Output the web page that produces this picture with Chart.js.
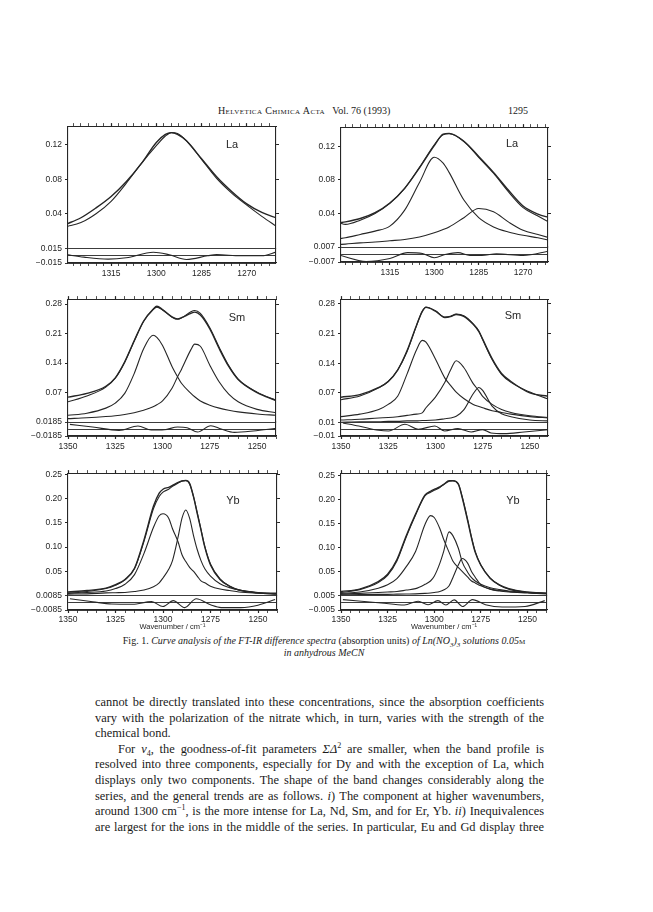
<!DOCTYPE html>
<html>
<head>
<meta charset="utf-8">
<script src="https://cdn.jsdelivr.net/npm/chart.js@4.4.1/dist/chart.umd.min.js"></script>
<style>
  body { margin: 0; background: #fff; }
  #page { position: relative; width: 653px; height: 912px; overflow: hidden; background: #fff; color: #1a1a1a; font-family: 'Liberation Serif', serif; }
  #page canvas { position: absolute; }
  sup, sub { line-height: 0; font-size: 8px; }
  .abs { position: absolute; white-space: nowrap; }
  .hdr { top: 105px; font-size: 10px; }
  .cap { left: 0; width: 648px; text-align: center; font-size: 10px; }
  .body { position: absolute; left: 95px; top: 695px; width: 449px; font-size: 12.4px; line-height: 15.6px; }
  .j { text-align: justify; text-align-last: justify; }
</style>
</head>
<body>
<div id="page">
  <div class="abs hdr" style="left:218px;"><span style="font-variant:small-caps;letter-spacing:0.4px">Helvetica Chimica Acta</span>&nbsp;&nbsp; Vol. 76 (1993)</div>
  <div class="abs hdr" style="left:508px;">1295</div>

  <canvas id="c1"></canvas>
  <canvas id="c2"></canvas>
  <canvas id="c3"></canvas>
  <canvas id="c4"></canvas>
  <canvas id="c5"></canvas>
  <canvas id="c6"></canvas>

  <div class="abs cap" style="top:635px;">Fig. 1. <i>Curve analysis of the FT-IR difference spectra</i> (absorption units) <i>of Ln(NO<sub style="font-size:7px">3</sub>)<sub style="font-size:7px">3</sub> solutions 0.05</i><span style="font-variant:small-caps">m</span></div>
  <div class="abs cap" style="top:647px;"><i>in anhydrous MeCN</i></div>

  <div class="body">
    <div class="j">cannot be directly translated into these concentrations, since the absorption coefficients</div>
    <div class="j">vary with the polarization of the nitrate which, in turn, varies with the strength of the</div>
    <div>chemical bond.</div>
    <div class="j" style="padding-left:23px">For <i>v</i><sub>4</sub>, the goodness-of-fit parameters <i>ΣΔ</i><sup>2</sup> are smaller, when the band profile is</div>
    <div class="j">resolved into three components, especially for Dy and with the exception of La, which</div>
    <div class="j">displays only two components. The shape of the band changes considerably along the</div>
    <div class="j">series, and the general trends are as follows. <i>i</i>) The component at higher wavenumbers,</div>
    <div class="j">around 1300 cm<sup>−1</sup>, is the more intense for La, Nd, Sm, and for Er, Yb. <i>ii</i>) Inequivalences</div>
    <div class="j">are largest for the ions in the middle of the series. In particular, Eu and Gd display three</div>
  </div>
</div>

<script>
// --- La, one component (top left)
const laAWn = [1330, 1325, 1320, 1315, 1310, 1305, 1300, 1297, 1295, 1293, 1290, 1285, 1280, 1275, 1270, 1265, 1260]
const laAExp = [0.0278, 0.0354, 0.0468, 0.0600, 0.0771, 0.0980, 0.1226, 0.1320, 0.1340, 0.1320, 0.1245, 0.1037, 0.0828, 0.0658, 0.0514, 0.0415, 0.0350]
const laAFit = [0.0250, 0.0298, 0.0400, 0.0544, 0.0752, 0.0980, 0.1188, 0.1300, 0.1340, 0.1330, 0.1245, 0.1030, 0.0809, 0.0639, 0.0500, 0.0370, 0.0250]
const laAResWn = [1330, 1324, 1316, 1310, 1301, 1296, 1290, 1283, 1280, 1272, 1265, 1260]
const laARes = [0.0023, -0.0030, -0.0070, -0.0043, 0.0070, 0.0023, -0.0077, -0.0003, 0.0023, -0.0003, -0.0003, 0.0077]

// --- La, two components (top right)
const laBWn = [1332, 1330, 1325, 1320, 1315, 1310, 1305, 1300, 1297, 1295, 1290, 1285, 1280, 1275, 1270, 1265, 1261]
const laBExp = [0.029, 0.030, 0.034, 0.041, 0.0526, 0.070, 0.0945, 0.121, 0.1345, 0.1355, 0.126, 0.108, 0.089, 0.068, 0.049, 0.0393, 0.035]
const laBFit = [0.029, 0.027, 0.032, 0.040, 0.052, 0.070, 0.095, 0.122, 0.134, 0.135, 0.126, 0.107, 0.088, 0.066, 0.047, 0.037, 0.029]
const laBC1 = [0.010, 0.011, 0.015, 0.019, 0.025, 0.044, 0.077, 0.107, 0.100, 0.089, 0.056, 0.035, 0.024, 0.018, 0.014, 0.011, 0.008]
const laBC2 = [0.003, 0.0035, 0.005, 0.006, 0.0075, 0.009, 0.012, 0.017, 0.021, 0.024, 0.035, 0.046, 0.042, 0.030, 0.020, 0.015, 0.011]
const laBResWn = [1332, 1323, 1315, 1309, 1304, 1300, 1296, 1292, 1288, 1283, 1279, 1270, 1261]
const laBRes = [-0.0006, -0.0065, -0.0037, 0.0018, 0.0009, -0.0030, 0.0003, 0.0018, -0.0009, -0.0006, 0.0006, -0.0009, 0.0034]

// --- Sm, two components (middle left)
const smAWn = [1350, 1340, 1330, 1325, 1320, 1315, 1310, 1305, 1303, 1300, 1295, 1292, 1290, 1285, 1283, 1280, 1275, 1270, 1265, 1260, 1250, 1240]
const smAExp = [0.059, 0.068, 0.085, 0.105, 0.143, 0.193, 0.240, 0.268, 0.275, 0.267, 0.250, 0.245, 0.248, 0.258, 0.261, 0.254, 0.221, 0.174, 0.132, 0.101, 0.070, 0.051]
const smAFit = [0.048, 0.062, 0.083, 0.104, 0.142, 0.192, 0.239, 0.267, 0.273, 0.266, 0.249, 0.244, 0.247, 0.262, 0.265, 0.258, 0.224, 0.177, 0.134, 0.102, 0.071, 0.052]
const smAC1 = [0.016, 0.021, 0.033, 0.045, 0.068, 0.115, 0.174, 0.206, 0.201, 0.182, 0.132, 0.107, 0.092, 0.068, 0.060, 0.050, 0.040, 0.033, 0.028, 0.024, 0.019, 0.016]
const smAC2 = [0.008, 0.010, 0.013, 0.015, 0.018, 0.022, 0.028, 0.036, 0.041, 0.050, 0.080, 0.108, 0.125, 0.172, 0.185, 0.180, 0.135, 0.095, 0.066, 0.048, 0.030, 0.022]
const smAResWn = [1349, 1337, 1323, 1313, 1306, 1299, 1292, 1287, 1281.5, 1274.5, 1269, 1262, 1252, 1240]
const smARes = [0.0123, 0.0053, -0.0035, 0.0080, -0.0026, -0.0018, 0.0053, 0.0035, -0.0080, 0.0088, 0.0000, -0.0088, -0.0053, 0.0018]

// --- Sm, three components (middle right)
const smBWn = [1350, 1340, 1330, 1325, 1320, 1315, 1310, 1307, 1305, 1300, 1295, 1292, 1289, 1285, 1280, 1277, 1275, 1270, 1265, 1260, 1250, 1240]
const smBExp = [0.060, 0.066, 0.083, 0.097, 0.124, 0.170, 0.230, 0.262, 0.272, 0.263, 0.248, 0.250, 0.255, 0.251, 0.232, 0.215, 0.197, 0.151, 0.116, 0.097, 0.070, 0.062]
const smBFit = [0.054, 0.063, 0.082, 0.097, 0.124, 0.168, 0.229, 0.263, 0.273, 0.264, 0.249, 0.251, 0.256, 0.252, 0.233, 0.216, 0.196, 0.149, 0.114, 0.095, 0.072, 0.055]
const smBC1 = [0.014, 0.020, 0.031, 0.043, 0.062, 0.115, 0.172, 0.194, 0.190, 0.150, 0.105, 0.088, 0.072, 0.057, 0.043, 0.038, 0.035, 0.028, 0.024, 0.020, 0.014, 0.011]
const smBC2 = [0.006, 0.008, 0.011, 0.012, 0.014, 0.017, 0.020, 0.023, 0.035, 0.060, 0.095, 0.124, 0.146, 0.130, 0.092, 0.075, 0.062, 0.043, 0.031, 0.024, 0.016, 0.012]
const smBC3 = [0.001, 0.002, 0.002, 0.003, 0.003, 0.004, 0.004, 0.005, 0.005, 0.006, 0.009, 0.011, 0.015, 0.030, 0.068, 0.083, 0.076, 0.039, 0.021, 0.014, 0.006, 0.004]
const smBResWn = [1349, 1340.6, 1330, 1324.8, 1316.1, 1309.1, 1300.3, 1295.1, 1288.1, 1281.1, 1275, 1270.6, 1263.6, 1253.1, 1240.4]
const smBRes = [0.0095, 0.0050, -0.0015, -0.0025, 0.0075, 0.0000, 0.0050, -0.0025, 0.0010, -0.0040, -0.0005, -0.0055, -0.0065, -0.0040, -0.0005]

// --- Yb, two components (bottom left)
const ybAWn = [1350, 1340, 1330, 1325, 1320, 1315, 1310, 1305, 1302, 1300, 1297, 1295, 1292, 1290, 1288, 1286, 1284, 1282, 1280, 1278, 1275, 1270, 1265, 1260, 1250, 1240]
const ybAExp = [0.007, 0.010, 0.015, 0.022, 0.033, 0.056, 0.115, 0.185, 0.212, 0.220, 0.224, 0.228, 0.234, 0.237, 0.238, 0.232, 0.205, 0.170, 0.135, 0.100, 0.063, 0.033, 0.019, 0.011, 0.005, 0.003]
const ybAFit = [0.004, 0.008, 0.014, 0.021, 0.032, 0.055, 0.112, 0.180, 0.205, 0.214, 0.220, 0.226, 0.233, 0.237, 0.238, 0.231, 0.206, 0.172, 0.137, 0.102, 0.065, 0.034, 0.019, 0.011, 0.005, 0.003]
const ybAC1 = [0.0045, 0.006, 0.009, 0.014, 0.023, 0.043, 0.087, 0.141, 0.165, 0.169, 0.160, 0.138, 0.110, 0.084, 0.070, 0.058, 0.050, 0.040, 0.030, 0.026, 0.019, 0.013, 0.010, 0.007, 0.0045, 0.003]
const ybAC2 = [0.0025, 0.003, 0.005, 0.0055, 0.006, 0.008, 0.011, 0.018, 0.026, 0.036, 0.054, 0.072, 0.122, 0.160, 0.177, 0.160, 0.125, 0.095, 0.072, 0.055, 0.040, 0.024, 0.016, 0.011, 0.006, 0.0045]
const ybAResWn = [1349, 1337, 1327, 1316, 1306, 1300, 1294.6, 1288.6, 1282.5, 1274.7, 1269.4, 1259, 1250, 1241]
const ybARes = [0.0045, 0.0010, -0.0016, -0.0018, 0.0012, -0.0045, 0.0024, -0.0057, 0.0045, -0.0028, -0.0057, -0.0057, -0.0030, 0.0036]

// --- Yb, three components (bottom right)
const ybBWn = [1350, 1340, 1330, 1325, 1320, 1315, 1310, 1305, 1302, 1300, 1297, 1295, 1292, 1290, 1287, 1285, 1282, 1280, 1278, 1275, 1270, 1265, 1260, 1250, 1240]
const ybBExp = [0.008, 0.013, 0.029, 0.044, 0.075, 0.125, 0.170, 0.210, 0.218, 0.222, 0.227, 0.232, 0.240, 0.240, 0.232, 0.205, 0.155, 0.120, 0.090, 0.063, 0.036, 0.022, 0.014, 0.007, 0.004]
const ybBFit = [0.006, 0.012, 0.027, 0.042, 0.072, 0.122, 0.168, 0.208, 0.216, 0.220, 0.226, 0.232, 0.239, 0.240, 0.233, 0.207, 0.158, 0.122, 0.092, 0.064, 0.036, 0.021, 0.013, 0.006, 0.004]
const ybBC1 = [0.004, 0.007, 0.015, 0.022, 0.035, 0.060, 0.092, 0.148, 0.167, 0.163, 0.140, 0.118, 0.090, 0.072, 0.058, 0.050, 0.038, 0.030, 0.026, 0.020, 0.013, 0.010, 0.008, 0.006, 0.004]
const ybBC2 = [0.0025, 0.004, 0.006, 0.007, 0.008, 0.011, 0.014, 0.023, 0.030, 0.040, 0.067, 0.091, 0.133, 0.125, 0.098, 0.070, 0.048, 0.037, 0.030, 0.023, 0.016, 0.012, 0.009, 0.006, 0.0045]
const ybBC3 = [0.001, 0.0015, 0.002, 0.002, 0.0025, 0.0028, 0.003, 0.004, 0.005, 0.006, 0.008, 0.011, 0.020, 0.037, 0.064, 0.077, 0.067, 0.050, 0.038, 0.022, 0.013, 0.009, 0.007, 0.005, 0.003]
const ybBResWn = [1349, 1328.5, 1316, 1308.6, 1303.3, 1298, 1293.7, 1289.3, 1284.8, 1279.5, 1272.5, 1263.6, 1251.3, 1240.7]
const ybBRes = [0.0021, -0.0002, -0.0016, 0.0010, -0.0014, 0.0014, -0.0016, 0.0019, -0.0026, 0.0021, -0.0014, -0.0030, -0.0026, 0.0014]

// tick labels
const laTicksX = [1315, 1300, 1285, 1270]
const wideTicksX = [1350, 1325, 1300, 1275, 1250]
const laTicksY = [0.04, 0.08, 0.12]
const smTicksY = [0.07, 0.14, 0.21, 0.28]
const ybTicksY = [0.05, 0.10, 0.15, 0.20, 0.25]

const ink = '#262626'
const sans = 'Liberation Sans'
const LW = 44, RW = 8, TH = 5

function curve(xs, ys, axis, width) {
    return {
        data: xs.map((x, i) => ({ x: x, y: ys[i] })),
        yAxisID: axis,
        borderColor: ink,
        borderWidth: width,
        pointRadius: 0,
        cubicInterpolationMode: 'monotone',
        fill: false,
    }
}

const tag = {
    id: 'tag',
    afterDraw(chart, args, o) {
        const { ctx, chartArea } = chart
        ctx.save()
        ctx.font = '11px "' + sans + '"'
        ctx.fillStyle = ink
        ctx.textAlign = 'center'
        ctx.textBaseline = 'middle'
        ctx.fillText(o.text, chartArea.right - o.dx, chartArea.top + o.dy)
        ctx.restore()
    },
}

function panel(id, frame, sep, p) {
    const BH = p.title ? 21 : 17
    const cv = document.getElementById(id)
    cv.width = frame.r - frame.l + LW + RW
    cv.height = frame.b - frame.t + TH + BH
    cv.style.left = frame.l - LW + 'px'
    cv.style.top = frame.t - TH + 'px'

    const datasets = p.curves.map((c, i) => curve(p.wn, c, 'y', i === 0 ? 1.4 : 1.1))
    datasets.push(curve(p.resWn, p.res, 'yr', 1.1))

    const font = { family: sans, size: 8.5 }
    const minor = s => {
        const out = []
        for (let k = Math.ceil(p.xMin / p.step); k * p.step <= p.xMax; k++) out.push({ value: k * p.step })
        s.ticks = out
    }
    const fixed = vals => s => { s.ticks = vals.map(v => ({ value: v })) }
    const isMajor = v => p.xLabels.includes(v)
    const xGrid = {
        drawOnChartArea: false, tickLength: 3, color: ink,
        tickWidth: c => (c.tick && isMajor(c.tick.value) ? 1.2 : 0.8),
    }
    const border = { display: true, color: ink, width: 1.1 }
    const mainW = sep - frame.t
    const resW = frame.b - sep

    new Chart(cv, {
        type: 'line',
        data: { datasets: datasets },
        plugins: [tag],
        options: {
            responsive: false,
            animation: false,
            devicePixelRatio: 1,
            layout: { padding: 0 },
            plugins: {
                legend: { display: false },
                tooltip: { enabled: false },
                tag: { text: p.tag, dx: p.tagDx, dy: p.tagDy },
            },
            scales: {
                x: {
                    type: 'linear', position: 'bottom', reverse: true, min: p.xMin, max: p.xMax,
                    afterBuildTicks: minor,
                    afterFit: s => { s.height = BH },
                    ticks: { autoSkip: false, maxRotation: 0, padding: p.title ? 2 : 3, color: ink, font: font,
                        callback: v => (isMajor(v) ? String(v) : '') },
                    grid: xGrid, border: border,
                    title: { display: !!p.title, text: p.title, color: ink, padding: 0, font: { family: sans, size: 7.5 } },
                },
                x2: {
                    type: 'linear', position: 'top', reverse: true, min: p.xMin, max: p.xMax,
                    afterBuildTicks: minor,
                    afterFit: s => { s.height = TH },
                    ticks: { display: false, autoSkip: false },
                    grid: xGrid, border: border,
                },
                yr: {
                    type: 'linear', position: 'left', stack: 'L', stackWeight: resW,
                    min: -p.res0, max: p.res0,
                    afterBuildTicks: fixed([-p.res0, 0, p.res0]),
                    afterFit: s => { s.width = LW },
                    ticks: { autoSkip: false, padding: 3, color: ink, font: font,
                        callback: v => (v === 0 ? '' : (v < 0 ? '\u2212' : '') + String(Math.abs(v))) },
                    grid: { drawOnChartArea: true, tickLength: 3, color: ink, lineWidth: 0.9,
                        tickColor: c => (c.tick && c.tick.value === 0 ? 'rgba(0,0,0,0)' : ink) },
                    border: border,
                },
                y: {
                    type: 'linear', position: 'left', stack: 'L', stackWeight: mainW,
                    min: 0, max: p.yMax,
                    afterBuildTicks: fixed(p.yTicks),
                    afterFit: s => { s.width = LW },
                    ticks: { autoSkip: false, padding: 3, color: ink, font: font, callback: v => v.toFixed(2) },
                    grid: { drawOnChartArea: false, tickLength: 3, color: ink },
                    border: border,
                },
                y2: {
                    type: 'linear', position: 'right', stack: 'R', stackWeight: mainW,
                    min: 0, max: p.yMax,
                    afterBuildTicks: fixed(p.yTicks),
                    afterFit: s => { s.width = RW },
                    ticks: { display: false, autoSkip: false },
                    grid: { drawOnChartArea: false, tickLength: 3, color: ink },
                    border: border,
                },
                yr2: {
                    type: 'linear', position: 'right', stack: 'R', stackWeight: resW,
                    min: -p.res0, max: p.res0,
                    afterFit: s => { s.width = RW },
                    ticks: { display: false },
                    grid: { display: false },
                    border: border,
                },
            },
        },
    })
}

panel('c1', { l: 68, t: 123, r: 276, b: 263 }, 248, {
    wn: laAWn, curves: [laAExp, laAFit], resWn: laAResWn, res: laARes,
    xMin: 1260.3, xMax: 1329.3, step: 2.5, xLabels: laTicksX,
    yMax: 0.1415, yTicks: laTicksY, res0: 0.015,
    tag: 'La', tagDx: 44, tagDy: 19,
})
panel('c2', { l: 341, t: 124, r: 548, b: 262 }, 246.7, {
    wn: laBWn, curves: [laBExp, laBFit, laBC1, laBC2], resWn: laBResWn, res: laBRes,
    xMin: 1261.6, xMax: 1331.5, step: 2.5, xLabels: laTicksX,
    yMax: 0.143, yTicks: laTicksY, res0: 0.007,
    tag: 'La', tagDx: 36, tagDy: 17,
})
panel('c3', { l: 68, t: 296, r: 276, b: 436 }, 421.7, {
    wn: smAWn, curves: [smAExp, smAFit, smAC1, smAC2], resWn: smAResWn, res: smARes,
    xMin: 1240, xMax: 1350, step: 5, xLabels: wideTicksX,
    yMax: 0.292, yTicks: smTicksY, res0: 0.0185,
    tag: 'Sm', tagDx: 39, tagDy: 19,
})
panel('c4', { l: 341, t: 296, r: 548, b: 436 }, 422.3, {
    wn: smBWn, curves: [smBExp, smBFit, smBC1, smBC2, smBC3], resWn: smBResWn, res: smBRes,
    xMin: 1240.4, xMax: 1350, step: 5, xLabels: wideTicksX,
    yMax: 0.2915, yTicks: smTicksY, res0: 0.01,
    tag: 'Sm', tagDx: 35, tagDy: 17,
})
panel('c5', { l: 68, t: 470, r: 277, b: 610 }, 595, {
    wn: ybAWn, curves: [ybAExp, ybAFit, ybAC1, ybAC2], resWn: ybAResWn, res: ybARes,
    xMin: 1240, xMax: 1350, step: 5, xLabels: wideTicksX,
    yMax: 0.2534, yTicks: ybTicksY, res0: 0.0085,
    tag: 'Yb', tagDx: 44, tagDy: 28, title: 'Wavenumber / cm\u207B\u00B9',
})
panel('c6', { l: 341, t: 470, r: 547, b: 610 }, 595, {
    wn: ybBWn, curves: [ybBExp, ybBFit, ybBC1, ybBC2, ybBC3], resWn: ybBResWn, res: ybBRes,
    xMin: 1239.5, xMax: 1350, step: 5, xLabels: wideTicksX,
    yMax: 0.256, yTicks: ybTicksY, res0: 0.005,
    tag: 'Yb', tagDx: 34, tagDy: 28, title: 'Wavenumber / cm\u207B\u00B9',
})
</script>
</body>
</html>
